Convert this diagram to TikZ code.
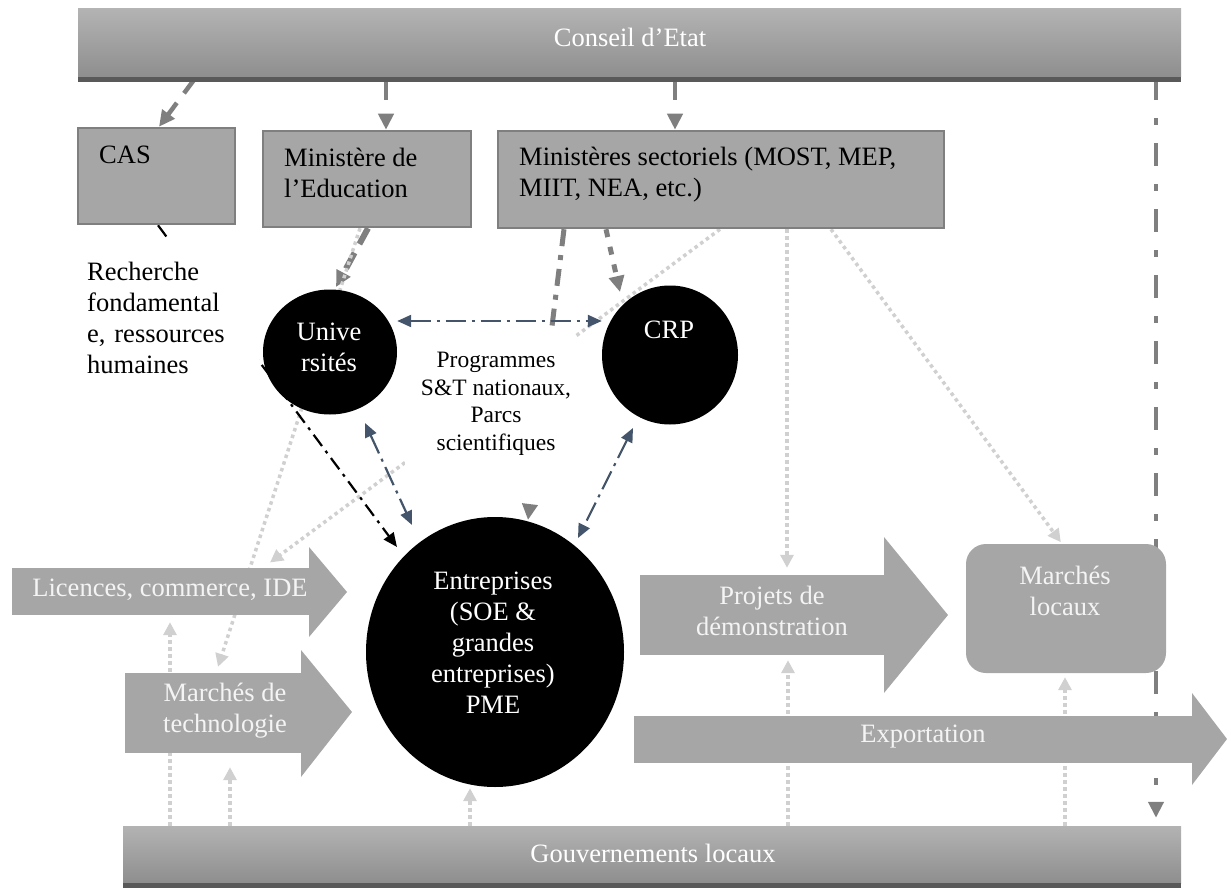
\documentclass[tikz,border=0pt]{standalone}
\usepackage{fontspec}
\setmainfont{Liberation Serif}
\usetikzlibrary{shapes.geometric,arrows.meta}
\pgfdeclarelayer{bg}
\pgfsetlayers{bg,main}
\definecolor{boxfill}{HTML}{A6A6A6}
\definecolor{boxline}{HTML}{7F7F7F}
\definecolor{conn}{HTML}{7F7F7F}
\definecolor{lightc}{HTML}{D0D0D0}
\definecolor{slate}{HTML}{44546A}
\definecolor{bartop}{HTML}{B3B3B3}
\definecolor{barbot}{HTML}{8E8E8E}
\definecolor{stripec}{HTML}{595959}
\definecolor{paletext}{HTML}{F4F4F4}
\begin{document}
\begin{tikzpicture}[x=1pt,y=-1pt,
  bigfont/.style={font=\fontsize{26.5pt}{31pt}\selectfont},
  bar/.style={top color=bartop, bottom color=barbot, draw=none, inner sep=0pt},
  bartext/.style={bigfont, text=white, inner sep=0pt},
  ministry/.style={draw=boxline, line width=2.5pt, fill=boxfill, inner sep=0pt},
  boxtext/.style={bigfont, text=black, inner sep=0pt},
  blob/.style={ellipse, fill=black, draw=none, inner sep=0pt},
  blobtext/.style={bigfont, text=white, inner sep=0pt, align=center},
  progtext/.style={font=\fontsize{23.5pt}{27.5pt}\selectfont, inner sep=0pt, align=center},
  abody/.style={fill=boxfill, draw=none, inner sep=0pt},
  atext/.style={bigfont, text=paletext, inner sep=0pt, align=center},
  gov/.style={draw=conn, line width=4.5pt, -{Triangle[length=16pt,width=15pt]}},
  lightline/.style={draw=lightc, line width=3.5pt, dash pattern=on 3.5pt off 3.5pt, -{Triangle[length=13pt,width=13pt]}},
  slateline/.style={draw=slate, line width=2.2pt, dash pattern=on 20pt off 6pt on 3pt off 6pt, {Triangle[length=14pt,width=12pt]}-{Triangle[length=14pt,width=12pt]}},
  blackline/.style={draw=black, line width=2.2pt, dash pattern=on 14pt off 6pt on 3pt off 6pt, -{Triangle[length=14pt,width=12pt]}}
]
\useasboundingbox (0,0) rectangle (1227,888);

% bars
\node[bar, minimum width=1103pt, minimum height=68pt] (conseil) at (629.5,43) {};
\fill[stripec] (conseil.south west) rectangle ([yshift=-5pt]conseil.south east);
\node[bartext] (conseilt) at (630,37) {Conseil d’Etat};
\node[bar, minimum width=1058pt, minimum height=57pt] (gouv) at (652,854.5) {};
\fill[stripec] (gouv.south west) rectangle ([yshift=-5pt]gouv.south east);
\node[bartext] (gouvt) at (653,853) {Gouvernements locaux};

% ministries
\node[ministry, minimum width=157pt, minimum height=96pt] (cas) at (156.5,176) {};
\node[boxtext, anchor=west] (cast) at (99,155) {CAS};
\node[ministry, minimum width=208pt, minimum height=96pt] (minedu) at (367,179) {};
\node[boxtext, anchor=west, align=left] (minedut) at (284,173) {Ministère de\\l’Education};
\node[ministry, minimum width=446pt, minimum height=97pt] (minsect) at (721,179.5) {};
\node[boxtext, anchor=west, align=left] (minsectt) at (519,175) {Ministères sectoriels (MOST, MEP,\\MIIT, NEA, etc.)};

% side text
\node[boxtext, align=left, fill=white, text width=162pt, inner xsep=10pt, inner ysep=22pt, anchor=west] (rech) at (77,318) {Recherche\\fondamental\\e, ressources\\humaines};

% ellipses
\node[blob, minimum width=134pt, minimum height=125pt] (uni) at (330,352) {};
\node[blobtext] (unit) at (329,347.5) {Unive\\rsités};
\node[blob, minimum width=136pt, minimum height=139pt] (crp) at (670,355) {};
\node[blobtext] (crpt) at (669,330) {CRP};
\node[blob, minimum width=258pt, minimum height=270pt] (ent) at (495,652) {};
\node[blobtext] (entt) at (493,643) {Entreprises\\(SOE \&\\grandes\\entreprises)\\PME};

% programmes
\node[fill=white, minimum width=170pt, minimum height=169pt, inner sep=0pt] (progbox) at (490,418.5) {};
\node[progtext] (prog) at (496,404) {Programmes\\S\&T nationaux,\\Parcs\\scientifiques};

% block arrows
\node[abody, minimum width=298pt, minimum height=47pt] (lic) at (161,591.5) {};
\fill[boxfill] (309,547) -- (347,592) -- (309,637) -- cycle;
\node[atext] (lict) at (170,590) {Licences, commerce, IDE};

\node[abody, minimum width=177pt, minimum height=80pt] (mtech) at (213.5,713) {};
\fill[boxfill] (301,650) -- (352,712) -- (301,777) -- cycle;
\node[atext] (mtecht) at (225,711) {Marchés de\\technologie};

\node[abody, minimum width=245pt, minimum height=80pt] (proj) at (762.5,615) {};
\fill[boxfill] (884,537) -- (948,615) -- (884,693) -- cycle;
\node[atext] (projt) at (772,611) {Projets de\\démonstration};

\node[abody, minimum width=559pt, minimum height=47pt] (export) at (913.5,739.5) {};
\fill[boxfill] (1192,693) -- (1227,739) -- (1192,785) -- cycle;
\node[atext] (exportt) at (923,737) {Exportation};

\node[fill=boxfill, rounded corners=20pt, minimum width=200pt, minimum height=129pt, inner sep=0pt] (mloc) at (1066,608.5) {};
\node[atext] (mloct) at (1065,591) {Marchés\\locaux};

\begin{pgfonlayer}{bg}
% from Conseil d'Etat
\draw[gov, dash pattern=on 20pt off 12pt] (conseil.south -| 196,0) -- (cas.north -| 159,0);
\draw[gov, dash pattern=on 23pt off 20pt] (conseil.south -| 386,0) -- (minedu.north -| 386,0);
\draw[gov, dash pattern=on 23pt off 20pt] (conseil.south -| 675,0) -- (minsect.north -| 675,0);
\draw[gov, dash pattern=on 23pt off 18pt on 7pt off 18pt, shorten >=8pt] (conseil.south -| 1156,0) -- (gouv.north -| 1156,0);
% ministries
\draw[gov, line width=6pt, dash pattern=on 18pt off 10pt] (minedu.south -| 368,0) -- ([shift={(6,-65)}]uni.center);
\draw[lightline] (minedu.south -| 360,0) -- ([shift={(4.5,-6)}]mtech.north);
\draw[gov, line width=5pt, dash pattern=on 17pt off 9pt on 5pt off 9pt] (minsect.south -| 564,0) -- ([shift={(33,-132)}]ent.center);
\draw[gov, line width=5pt, dash pattern=on 8pt off 10pt] (minsect.south -| 606,0) -- ([shift={(-50,-63)}]crp.center);
\draw[lightline] (minsect.south -| 720,0) -- ([shift={(109,-29)}]lic.center);
\draw[lightline, shorten >=7pt] (minsect.south -| 787,0) -- (proj.north -| 787,0);
\draw[lightline, shorten >=2pt] (minsect.south -| 831,0) -- (mloc.north -| 1062,0);
% local governments
\draw[lightline, shorten >=7pt] (gouv.north -| 170,0) -- (lic.south -| 170,0);
\draw[lightline, shorten >=14pt] (gouv.north -| 230,0) -- (mtech.south -| 230,0);
\draw[lightline, shorten >=1pt] (gouv.north -| 470,0) -- (ent.south -| 470,0);
\draw[lightline, shorten >=5pt] (gouv.north -| 788,0) -- (proj.south -| 788,0);
\draw[lightline, shorten >=4pt] (gouv.north -| 1065,0) -- (mloc.south -| 1065,0);
% research links
\draw[slateline] (uni.east |- 0,321) -- (crp.west |- 0,321);
\draw[slateline] ([shift={(35,71)}]uni.center) -- ([shift={(-83,-127)}]ent.center);
\draw[slateline] ([shift={(-37,73)}]crp.center) -- ([shift={(83,-114)}]ent.center);
\draw[blackline] (cas.south -| 158,0) -- ([shift={(-98,-105)}]ent.center);
\end{pgfonlayer}
\end{tikzpicture}
\end{document}
